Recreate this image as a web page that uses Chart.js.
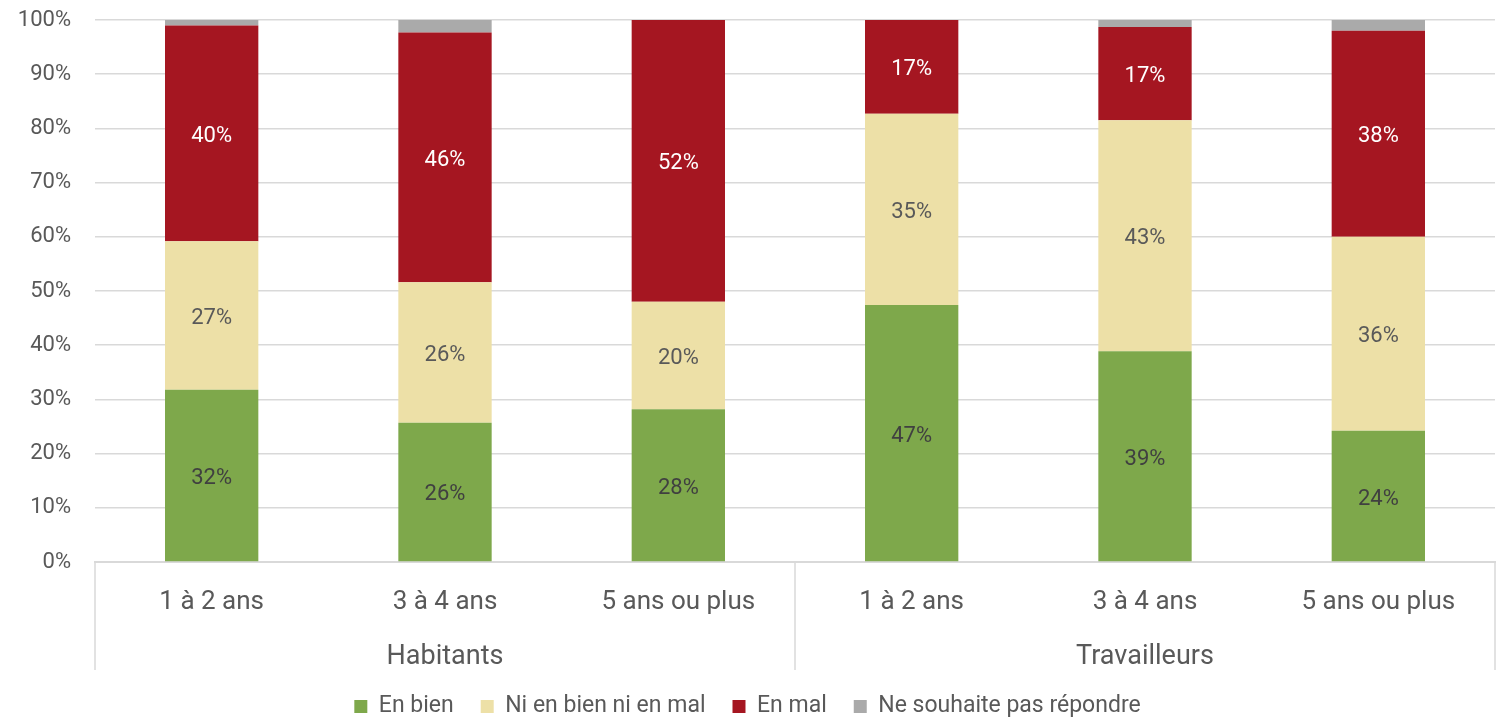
<!DOCTYPE html>
<html>
<head>
<meta charset="utf-8">
<script src="https://cdn.jsdelivr.net/npm/chart.js@4"></script>
<style>
  html, body { margin: 0; padding: 0; background: #fff; }
  #wrap { position: relative; width: 1499px; height: 728px; }
</style>
</head>
<body>
<div id="wrap"><canvas id="myChart"></canvas></div>
<script>
// categories and groups
const categories = ['1 à 2 ans', '3 à 4 ans', '5 ans ou plus', '1 à 2 ans', '3 à 4 ans', '5 ans ou plus'];
const groups = ['Habitants', 'Travailleurs'];

// series values (%)
const enBien = [31.8, 25.7, 28.2, 47.4, 38.9, 24.2];
const niBienNiMal = [27.4, 25.9, 19.8, 35.3, 42.6, 35.8];
const enMal = [39.8, 46.1, 52.0, 17.3, 17.2, 38.0];
const neSouhaitePas = [1.0, 2.3, 0, 0, 1.3, 2.0];

const yTicks = [0, 10, 20, 30, 40, 50, 60, 70, 80, 90, 100];

const FONT = 'Roboto, "Open Sans", sans-serif';
const TEXT = '#595959';
const LINE = '#d9d9d9';

// value labels inside the bars
const barLabels = {
    id: 'barLabels',
    afterDatasetsDraw(chart) {
        const { ctx } = chart;
        ctx.save();
        ctx.font = '22px ' + FONT;
        ctx.textAlign = 'center';
        ctx.textBaseline = 'middle';
        chart.data.datasets.forEach((ds, i) => {
            if (!ds.labelColor) return;
            const meta = chart.getDatasetMeta(i);
            meta.data.forEach((bar, j) => {
                const v = ds.data[j];
                if (!v) return;
                ctx.fillStyle = ds.labelColor;
                ctx.fillText(Math.round(v) + '%', bar.x, (bar.y + bar.base) / 2 + 3);
            });
        });
        ctx.restore();
    }
};

// vertical separators under the axis (left, between groups, right)
const groupLines = {
    id: 'groupLines',
    afterDraw(chart) {
        const { ctx, chartArea } = chart;
        const x = chart.scales.x;
        const xg = chart.scales.xg;
        const mid = (x.getPixelForValue(2) + x.getPixelForValue(3)) / 2;
        ctx.save();
        ctx.strokeStyle = LINE;
        ctx.lineWidth = 1.5;
        [chartArea.left, mid, chartArea.right].forEach(px => {
            ctx.beginPath();
            ctx.moveTo(px, chartArea.bottom);
            ctx.lineTo(px, xg.bottom + 2);
            ctx.stroke();
        });
        ctx.restore();
    }
};

const ctx = document.getElementById('myChart').getContext('2d');
const myChart = new Chart(ctx, {
    type: 'bar',
    data: {
        labels: categories,
        datasets: [
            { label: 'En bien', data: enBien, backgroundColor: '#7ea84b', labelColor: '#404040' },
            { label: 'Ni en bien ni en mal', data: niBienNiMal, backgroundColor: '#ede0a7', labelColor: '#595959' },
            { label: 'En mal', data: enMal, backgroundColor: '#a51621', labelColor: '#ffffff' },
            { label: 'Ne souhaite pas répondre', data: neSouhaitePas, backgroundColor: '#aaaaaa' }
        ]
    },
    options: {
        responsive: true,
        maintainAspectRatio: false,
        animation: false,
        datasets: {
            bar: { categoryPercentage: 1, barPercentage: 0.4 }
        },
        layout: { padding: { top: 20, right: 4, left: 0, bottom: 0 } },
        plugins: {
            legend: {
                position: 'bottom',
                labels: {
                    font: { family: FONT, size: 23 },
                    color: TEXT,
                    boxWidth: 13,
                    boxHeight: 13,
                    padding: 27
                }
            },
            tooltip: { enabled: false }
        },
        scales: {
            x: {
                stacked: true,
                grid: { display: false },
                border: { display: true, color: LINE, width: 2 },
                ticks: {
                    font: { family: FONT, size: 26 },
                    color: TEXT,
                    padding: 17,
                    maxRotation: 0
                },
                afterFit(scale) { scale.height = 60; }
            },
            xg: {
                type: 'category',
                labels: groups,
                position: 'bottom',
                grid: { display: false },
                border: { display: false },
                ticks: {
                    font: { family: FONT, size: 27 },
                    color: TEXT,
                    padding: 11
                },
                afterFit(scale) { scale.height = 46; }
            },
            y: {
                stacked: true,
                min: 0,
                max: 100,
                grid: { color: LINE, lineWidth: 1.5, drawTicks: false },
                border: { display: false },
                afterBuildTicks(scale) { scale.ticks = yTicks.map(v => ({ value: v })); },
                ticks: {
                    font: { family: FONT, size: 22 },
                    color: TEXT,
                    padding: 24,
                    callback: v => v + '%'
                },
                afterFit(scale) {
                    scale.width = 95;
                    scale.paddingTop = 0;
                    scale.paddingBottom = 0;
                }
            }
        }
    },
    plugins: [barLabels, groupLines]
});
</script>
</body>
</html>
